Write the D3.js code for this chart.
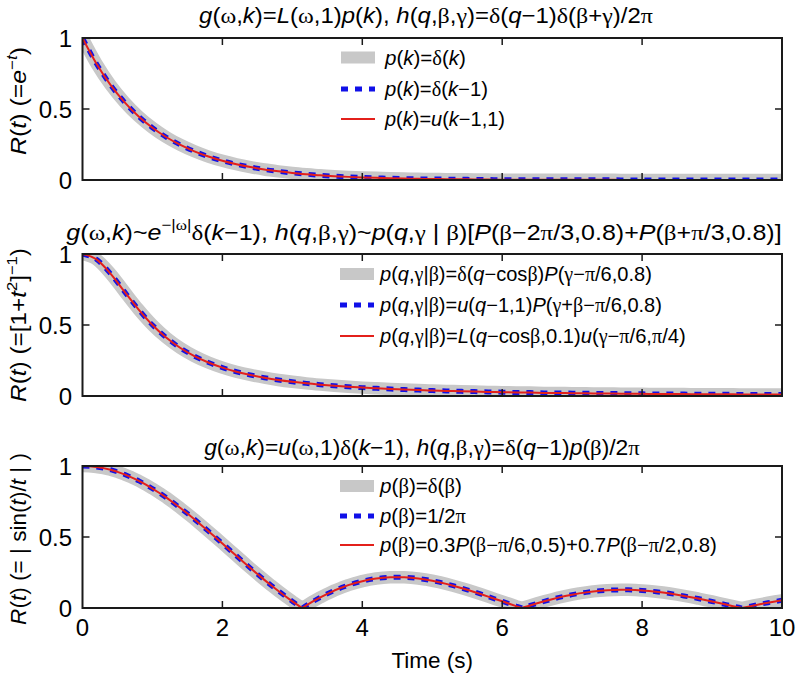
<!DOCTYPE html>
<html><head><meta charset="utf-8">
<script src="https://cdn.jsdelivr.net/npm/d3@7"></script>
<style>body{margin:0;background:#fff} svg{display:block}</style>
</head><body><svg id="c" width="800" height="675"></svg>
<script>
// ---------- data ----------
const timeAB = [0,0.2,0.4,0.6,0.8,1.0,1.2,1.4,1.6,1.8,2.0,2.2,2.4,2.6,2.8,3.0,3.2,3.4,3.6,3.8,4.0,4.2,4.4,4.6,4.8,5.0,
  5.2,5.4,5.6,5.8,6.0,6.2,6.4,6.6,6.8,7.0,7.2,7.4,7.6,7.8,8.0,8.2,8.4,8.6,8.8,9.0,9.2,9.4,9.6,9.8,10];
const reliabilityExp = [1,0.819,0.670,0.549,0.449,0.368,0.301,0.247,0.202,0.165,0.135,0.111,0.091,0.074,0.061,0.050,
  0.041,0.033,0.027,0.022,0.018,0.015,0.012,0.010,0.008,0.007,0.006,0.005,0.004,0.003,0.002,0.002,0.002,0.001,0.001,
  0.001,0.001,0.001,0.001,0,0,0,0,0,0,0,0,0,0,0,0];
const reliabilityLor = [1,0.962,0.862,0.735,0.610,0.500,0.410,0.338,0.281,0.236,0.200,0.171,0.148,0.129,0.113,0.100,
  0.089,0.080,0.072,0.065,0.059,0.054,0.049,0.045,0.042,0.038,0.036,0.033,0.031,0.029,0.027,0.025,0.024,0.022,0.021,
  0.020,0.019,0.018,0.017,0.016,0.015,0.0147,0.014,0.0133,0.0127,0.0122,0.0117,0.0112,0.0107,0.0103,0.0099];
const timeC = [
  0,0.1,0.2,0.3,0.4,0.5,0.6,0.7,0.8,0.9,1.0,1.1,1.2,1.3,1.4,1.5,1.6,1.7,1.8,1.9,2.0,2.1,2.2,2.3,2.4,2.5,2.6,2.7,2.8,2.9,3.0,3.1,
  3.1416,
  3.2,3.3,3.4,3.5,3.6,3.7,3.8,3.9,4.0,4.1,4.2,4.3,4.4,4.5,4.6,4.7,4.8,4.9,5.0,5.1,5.2,5.3,5.4,5.5,5.6,5.7,5.8,5.9,6.0,6.1,6.2,
  6.2832,
  6.3,6.4,6.5,6.6,6.7,6.8,6.9,7.0,7.1,7.2,7.3,7.4,7.5,7.6,7.7,7.8,7.9,8.0,8.1,8.2,8.3,8.4,8.5,8.6,8.7,8.8,8.9,9.0,9.1,9.2,9.3,9.4,
  9.4248,
  9.5,9.6,9.7,9.8,9.9,10];
const reliabilitySinc = [
  1,0.998,0.993,0.985,0.974,0.959,0.941,0.920,0.897,0.870,0.841,0.810,0.777,0.741,0.704,0.665,0.625,0.583,0.541,0.498,0.455,0.411,0.368,0.324,0.281,0.239,0.198,0.158,0.120,0.083,0.047,0.013,
  0,
  0.018,0.048,0.075,0.100,0.123,0.143,0.161,0.176,0.189,0.200,0.208,0.213,0.216,0.217,0.216,0.213,0.208,0.201,0.192,0.182,0.170,0.157,0.143,0.128,0.113,0.097,0.080,0.063,0.047,0.030,0.013,
  0,
  0.003,0.018,0.033,0.047,0.060,0.073,0.084,0.094,0.103,0.110,0.117,0.121,0.125,0.127,0.128,0.128,0.126,0.124,0.120,0.115,0.109,0.102,0.094,0.085,0.076,0.067,0.056,0.046,0.035,0.024,0.013,0.003,
  0,
  0.008,0.018,0.028,0.037,0.046,0.054];
const xTicks = [0,2,4,6,8,10];
const yTicks = [0,0.5,1];
const yTickLabels = ["0","0.5","1"];
const titles = [
  "*g*(ω,*k*)=*L*(ω,1)*p*(*k*), *h*(*q*,β,γ)=δ(*q*−1)δ(β+γ)/2π",
  "*g*(ω,*k*)~*e*^{−|ω|}δ(*k*−1), *h*(*q*,β,γ)~*p*(*q*,γ | β)[*P*(β−2π/3,0.8)+*P*(β+π/3,0.8)]",
  "*g*(ω,*k*)=*u*(ω,1)δ(*k*−1), *h*(*q*,β,γ)=δ(*q*−1)*p*(β)/2π"
];
const yLabels = [
  "*R*(*t*) (=*e*^{−*t*})",
  "*R*(*t*) (=[1+*t*^{2}]^{−1})",
  "*R*(*t*) (= | sin(*t*)/*t* | )"
];
const legendLabels1 = ["*p*(*k*)=δ(*k*)", "*p*(*k*)=δ(*k*−1)", "*p*(*k*)=*u*(*k*−1,1)"];
const legendLabels2 = ["*p*(*q*,γ|β)=δ(*q*−cosβ)*P*(γ−π/6,0.8)", "*p*(*q*,γ|β)=*u*(*q*−1,1)*P*(γ+β−π/6,0.8)", "*p*(*q*,γ|β)=*L*(*q*−cosβ,0.1)*u*(γ−π/6,π/4)"];
const legendLabels3 = ["*p*(β)=δ(β)", "*p*(β)=1/2π", "*p*(β)=0.3*P*(β−π/6,0.5)+0.7*P*(β−π/2,0.8)"];
const xLabel = "Time (s)";

// ---------- layout ----------
const svg = d3.select("#c");
const FONT = "'Liberation Sans', Arial, Helvetica, sans-serif";
const GREEKFONT = "'Liberation Serif', 'Times New Roman', serif";
const left = 82.5, right = 782;
const panels = [
  {top: 38, t: timeAB, v: reliabilityExp, title: titles[0], titleY: 23, titleW: 454, titleX: 426,
   ylab: yLabels[0], ylabY: 101, ylabW: 108, leg: legendLabels1, legY: [57.5, 89, 119], legTextX: 385, legSwX: 341, legW: [82,104,121]},
  {top: 254, t: timeAB, v: reliabilityLor, title: titles[1], titleY: 239.5, titleW: 716, titleX: 424,
   ylab: yLabels[1], ylabY: 325, ylabW: 154, leg: legendLabels2, legY: [274, 305, 336], legTextX: 380, legSwX: 340, legW: [273,283,307]},
  {top: 466, t: timeC, v: reliabilitySinc, title: titles[2], titleY: 455, titleW: 436, titleX: 422,
   ylab: yLabels[2], ylabY: 539, ylabW: 172, leg: legendLabels3, legY: [486, 516, 545], legTextX: 380, legSwX: 340, legW: [83,87,338]}
];
const PH = 142;
const x = d3.scaleLinear().domain([0,10]).range([left, right]);

const styles = [
  {stroke: "#c8c8c8", width: 12.5, dash: null},
  {stroke: "#1010e8", width: 5, dash: "7,7"},
  {stroke: "#e3201b", width: 2, dash: null}
];

function rich(textSel, str, F) {
  const chars = [];
  let italic = false, sup = false;
  for (let i = 0; i < str.length; i++) {
    const c = str[i];
    if (c === '*') { italic = !italic; continue; }
    if (c === '^' && str[i+1] === '{') { sup = true; i++; continue; }
    if (c === '}' && sup) { sup = false; continue; }
    const greek = 'ωβγδπ'.includes(c);
    chars.push({c, italic, sup, greek});
  }
  const runs = [];
  chars.forEach(ch => {
    const last = runs[runs.length-1];
    if (last && last.italic === ch.italic && last.sup === ch.sup && last.greek === ch.greek) last.t += ch.c;
    else runs.push({t: ch.c, italic: ch.italic, sup: ch.sup, greek: ch.greek});
  });
  let shift = 0;
  runs.forEach(r => {
    const target = r.sup ? -0.42 * F : 0;
    textSel.append("tspan").text(r.t)
      .attr("dy", target - shift)
      .attr("font-style", r.italic ? "italic" : "normal")
      .attr("font-family", r.greek ? GREEKFONT : FONT)
      .attr("font-size", r.sup ? F * 0.68 : F);
    shift = target;
  });
}

function fitted(parent, str, F, tx, ty, targetW, anchor, rotate) {
  const g = parent.append("g");
  const t = g.append("text").attr("text-anchor", anchor).attr("fill", "#000").attr("xml:space", "preserve");
  rich(t, str, F);
  const w = t.node().getBBox().width;
  const sx = targetW / w;
  g.attr("transform", `translate(${tx},${ty})` + (rotate ? " rotate(-90)" : "") + ` scale(${sx},1)`);
  return g;
}

panels.forEach((p, pi) => {
  const y = d3.scaleLinear().domain([0,1]).range([p.top + PH, p.top]);
  const g = svg.append("g");
  const clipId = "clip" + pi;
  svg.append("clipPath").attr("id", clipId).append("rect")
    .attr("x", left).attr("y", p.top).attr("width", right - left).attr("height", PH);

  const data = p.t.map((t, i) => [t, p.v[i]]);
  const line = d3.line().x(d => x(d[0])).y(d => y(d[1]))
    .curve(pi === 2 ? d3.curveLinear : d3.curveMonotoneX);
  const lg = g.append("g").attr("clip-path", `url(#${clipId})`);
  styles.forEach(s => {
    lg.append("path").datum(data).attr("d", line)
      .attr("fill", "none").attr("stroke", s.stroke).attr("stroke-width", s.width)
      .attr("stroke-dasharray", s.dash).attr("stroke-linejoin", "round");
  });

  // box
  g.append("rect").attr("x", left).attr("y", p.top).attr("width", right - left).attr("height", PH)
    .attr("fill", "none").attr("stroke", "#1a1a1a").attr("stroke-width", 2);

  // inward ticks
  const tl = 7;
  xTicks.slice(1, -1).forEach(v => {
    g.append("line").attr("x1", x(v)).attr("x2", x(v)).attr("y1", p.top + PH).attr("y2", p.top + PH - tl)
      .attr("stroke", "#1a1a1a").attr("stroke-width", 1.5);
    g.append("line").attr("x1", x(v)).attr("x2", x(v)).attr("y1", p.top).attr("y2", p.top + tl)
      .attr("stroke", "#1a1a1a").attr("stroke-width", 1.5);
  });
  yTicks.slice(1, -1).forEach(v => {
    g.append("line").attr("x1", left).attr("x2", left + tl).attr("y1", y(v)).attr("y2", y(v))
      .attr("stroke", "#1a1a1a").attr("stroke-width", 1.5);
    g.append("line").attr("x1", right).attr("x2", right - tl).attr("y1", y(v)).attr("y2", y(v))
      .attr("stroke", "#1a1a1a").attr("stroke-width", 1.5);
  });

  // y tick labels
  yTicks.forEach((v, i) => {
    g.append("text").attr("x", 72).attr("y", y(v)).attr("dy", "0.36em")
      .attr("text-anchor", "end").attr("font-family", FONT).attr("font-size", 24).attr("fill", "#000")
      .text(yTickLabels[i]);
  });

  // title
  fitted(svg, p.title, 22, p.titleX, p.titleY, p.titleW, "middle", false);
  // y label
  fitted(svg, p.ylab, 22, 26, p.ylabY, p.ylabW, "middle", true);

  // legend
  p.leg.forEach((lab, i) => {
    const ly = p.legY[i];
    const s = styles[i];
    if (i === 0) {
      g.append("rect").attr("x", p.legSwX).attr("y", ly - 6).attr("width", 34).attr("height", 12).attr("fill", s.stroke);
    } else {
      g.append("line").attr("x1", p.legSwX).attr("x2", p.legSwX + 34).attr("y1", ly).attr("y2", ly)
        .attr("stroke", s.stroke).attr("stroke-width", s.width).attr("stroke-dasharray", s.dash);
    }
    fitted(svg, lab, 20, p.legTextX, ly + 7, p.legW[i], "start", false);
  });

  // x tick labels only on bottom panel
  if (pi === 2) {
    xTicks.forEach(v => {
      g.append("text").attr("x", x(v)).attr("y", 636).attr("text-anchor", "middle")
        .attr("font-family", FONT).attr("font-size", 24).attr("fill", "#000").text(v);
    });
    g.append("text").attr("x", (left + right) / 2).attr("y", 668).attr("text-anchor", "middle")
      .attr("font-family", FONT).attr("font-size", 22.5).attr("fill", "#000").text(xLabel);
  }
});
</script></body></html>
